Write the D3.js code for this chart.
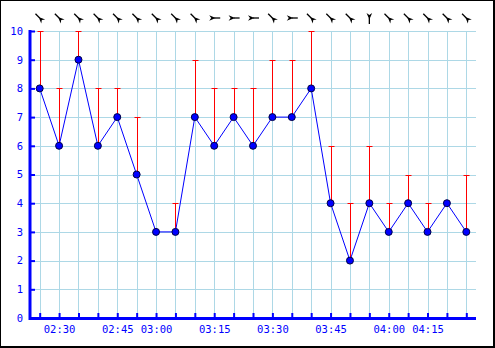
<!DOCTYPE html>
<meta charset="utf-8">
<script src="https://cdn.jsdelivr.net/npm/d3@7/dist/d3.min.js"></script>
<style>
  body { margin: 0; background: #fff; }
  text { font-family: "DejaVu Sans Mono", monospace; fill: #0000ff; }
</style>
<body>
<script>

// point labels along the bottom (blank = no label)
var timeLabels = ["", "02:30", "", "", "02:45", "", "03:00", "", "", "03:15", "", "",
                  "03:30", "", "", "03:45", "", "", "04:00", "", "04:15", "", ""];
// mean wind
var speed = [8, 6, 9, 6, 7, 5, 3, 3, 7, 6, 7, 6, 7, 7, 8, 4, 2, 4, 3, 4, 3, 4, 3];
// gusts
var gust  = [10, 8, 10, 8, 8, 7, 3, 4, 9, 8, 8, 8, 9, 9, 10, 6, 4, 6, 4, 5, 4, 4, 5];
// direction the arrow shaft points, degrees
var windDir = [315, 315, 315, 315, 315, 315, 315, 315, 315, 90, 90, 90, 315, 90,
               315, 315, 315, 180, 315, 315, 315, 315, 315];
var yTicks = [0, 1, 2, 3, 4, 5, 6, 7, 8, 9, 10];

var width = 495, height = 348;
var plotLeft = 30, plotRight = 476, plotTop = 31, plotBottom = 318;

var svg = d3.select("body").append("svg")
    .attr("width", width)
    .attr("height", height);

// frame
svg.append("rect")
    .attr("x", 0.5).attr("y", 0.5)
    .attr("width", 493).attr("height", 346)
    .attr("fill", "none").attr("stroke", "#000");
svg.append("line").attr("x1", 494.5).attr("x2", 494.5).attr("y1", 0).attr("y2", 348).attr("stroke", "#000");
svg.append("line").attr("x1", 0).attr("x2", 495).attr("y1", 347.5).attr("y2", 347.5).attr("stroke", "#000");

var idx = d3.range(speed.length);
var x = d3.scalePoint().domain(idx).range([plotLeft, plotRight]).padding(0.5);
var y = d3.scaleLinear().domain([0, 10]).range([plotBottom, plotTop]);

function px(v) { return Math.round(v) + 0.5; }

// grid
svg.append("g").selectAll("line").data(yTicks).enter().append("line")
    .attr("x1", plotLeft).attr("x2", plotRight)
    .attr("y1", function(d) { return px(y(d)); })
    .attr("y2", function(d) { return px(y(d)); })
    .attr("stroke", "#add8e6");
svg.append("g").selectAll("line").data(idx).enter().append("line")
    .attr("x1", function(d) { return px(x(d)); })
    .attr("x2", function(d) { return px(x(d)); })
    .attr("y1", plotTop).attr("y2", plotBottom)
    .attr("stroke", "#add8e6");

// axes
var yAxis = d3.axisLeft(y).tickValues(yTicks).tickSize(-5).tickPadding(10);
var ga = svg.append("g").attr("transform", "translate(" + plotLeft + ",0)").call(yAxis);
var xAxis = d3.axisBottom(x).tickSize(-5).tickPadding(10)
    .tickFormat(function(d) { return timeLabels[d]; });
var gx = svg.append("g").attr("transform", "translate(0," + plotBottom + ")").call(xAxis);

[ga, gx].forEach(function(g) {
    g.select(".domain").remove();
    g.selectAll(".tick line").attr("stroke", "#0000ff").attr("stroke-width", 2);
    g.selectAll(".tick text").attr("fill", "#0000ff").style("font-size", "10.5px");
});
ga.selectAll(".tick text").attr("x", -7);
gx.selectAll(".tick text").attr("y", 8);

svg.append("line").attr("x1", plotLeft).attr("x2", plotLeft).attr("y1", plotTop - 1).attr("y2", plotBottom + 2)
    .attr("stroke", "#0000ff").attr("stroke-width", 3);
svg.append("line").attr("x1", plotLeft - 1).attr("x2", plotRight).attr("y1", plotBottom + 0.5).attr("y2", plotBottom + 0.5)
    .attr("stroke", "#0000ff").attr("stroke-width", 3);

// gust bars
var gb = svg.append("g").selectAll("g").data(idx.filter(function(i) { return gust[i] > speed[i]; }))
    .enter().append("g");
gb.append("line")
    .attr("x1", function(d) { return px(x(d)); })
    .attr("x2", function(d) { return px(x(d)); })
    .attr("y1", function(d) { return y(speed[d]); })
    .attr("y2", function(d) { return px(y(gust[d])); })
    .attr("stroke", "#ff0000");
gb.append("line")
    .attr("x1", function(d) { return px(x(d)) - 3; })
    .attr("x2", function(d) { return px(x(d)) + 3; })
    .attr("y1", function(d) { return px(y(gust[d])); })
    .attr("y2", function(d) { return px(y(gust[d])); })
    .attr("stroke", "#ff0000");

// speed line
var line = d3.line()
    .x(function(d) { return x(d); })
    .y(function(d) { return y(speed[d]); });
svg.append("path").datum(idx)
    .attr("d", line)
    .attr("fill", "none")
    .attr("stroke", "#0000ff")
    .attr("stroke-width", 1);

svg.append("g").selectAll("circle").data(idx).enter().append("circle")
    .attr("cx", function(d) { return x(d); })
    .attr("cy", function(d) { return y(speed[d]); })
    .attr("r", 3.5)
    .attr("fill", "#0000ff")
    .attr("stroke", "#000044")
    .attr("stroke-width", 1);

// wind direction arrows
var arrows = svg.append("g").selectAll("g").data(idx).enter().append("g")
    .attr("transform", function(d) {
        return "translate(" + x(d) + ",18) rotate(" + windDir[d] + ")";
    });
arrows.append("line")
    .attr("x1", 0).attr("y1", 0).attr("x2", 0).attr("y2", -6)
    .attr("stroke", "#000").attr("stroke-width", 1.3);
arrows.append("path")
    .attr("d", "M0,-1.5L-2.8,5L0,3L2.8,5Z")
    .attr("fill", "#000");

</script>
</body>
